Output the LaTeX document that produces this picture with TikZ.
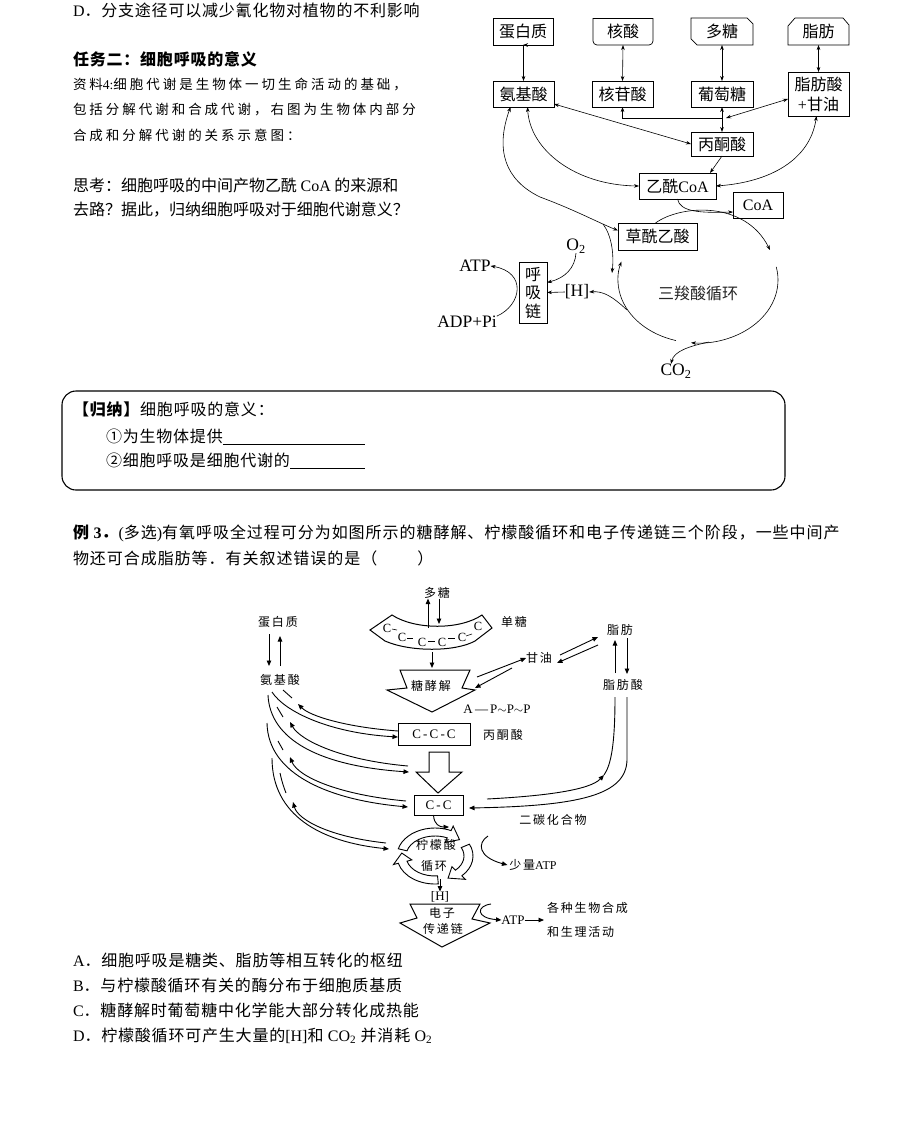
\documentclass[tikz,border=0pt]{standalone}
\usepackage{fontspec}
\setmainfont{Liberation Serif}
\newfontfamily\cjk{Noto Sans CJK SC}[LetterSpace=5]
\newfontfamily\cjkw{Noto Sans CJK SC}[LetterSpace=6]
\newfontfamily\cjkz{Noto Sans CJK SC}[LetterSpace=22]
\newfontfamily\cjkn{Noto Sans CJK SC}
\newfontfamily\cjks{Noto Sans CJK SC}[LetterSpace=15]
\usetikzlibrary{arrows.meta,calc}
\newcommand\fs[1]{\fontsize{#1}{#1}\selectfont}
\newcommand\Lt[1]{{\rmfamily #1}}
\newcommand\harc[2]{%
  \draw[line width=0.9pt, fill=white, shift={(435,856)}]
    (#1:38 and 28) arc[start angle=#1, end angle=#2, x radius=38, y radius=28]
    -- (#2:43 and 33) -- ({#2+22}:33.5 and 24) -- (#2:24 and 15) -- (#2:29 and 20)
    arc[start angle=#2, end angle=#1, x radius=29, y radius=20] -- cycle;}
\tikzset{
  every node/.style={inner sep=0pt, outer sep=0pt},
  txt/.style={anchor=base west, font=\fs{16}\cjk},
  bx/.style={draw, line width=0.7pt, font=\fs{16}\cjkn},
  bxn/.style={font=\fs{16}\cjkn},
  lab/.style={font=\fs{17.5}\rmfamily},
  ar/.style={line width=0.6pt, -{Stealth[length=5pt,width=3.6pt]}},
  dar/.style={line width=0.6pt, {Stealth[length=5pt,width=3.6pt]}-{Stealth[length=5pt,width=3.6pt]}},
  ln/.style={line width=0.7pt},
  Ar/.style={line width=0.9pt, -{Triangle[length=5.5pt,width=4.5pt]}},
  Ln/.style={line width=0.9pt},
  shp/.style={line width=1pt, fill=white},
  lt/.style={font=\fs{12}\cjks},
  ls/.style={font=\fs{13}\rmfamily},
}
\begin{document}
\begin{tikzpicture}[x=1pt,y=-1pt]
\useasboundingbox (0,0) rectangle (916,1130);
\fill[white] (0,0) rectangle (916,1130);

% ---------- top-left text ----------
\node[txt] (tD) at (73,16) {\Lt{D}．分支途径可以减少氰化物对植物的不利影响};
\node[txt, font=\fs{16}\cjk\bfseries] (t2) at (73,65) {任务二：细胞呼吸的意义};
\node[txt, font=\fs{13.5}\cjkz] (z1) at (73,89) {资料\Lt{4:}细胞代谢是生物体一切生命活动的基础，};
\node[txt, font=\fs{13.5}\cjkz] (z2) at (73,114) {包括分解代谢和合成代谢，右图为生物体内部分};
\node[txt, font=\fs{13.5}\cjkz] (z3) at (73,140) {合成和分解代谢的关系示意图：};
\node[txt, font=\fs{16}\cjkn] (s1) at (73,191) {思考：细胞呼吸的中间产物乙酰 \Lt{CoA} 的来源和};
\node[txt, font=\fs{16}\cjkn] (s2) at (73,215) {去路？据此，归纳细胞呼吸对于细胞代谢意义？};

% ---------- top-right diagram ----------
\node[bx, minimum width=60pt, minimum height=27pt] (dbz) at (523,31.5) {蛋白质};
\node[bxn, minimum width=60pt, minimum height=27pt] (hs) at (623,31.5) {核酸};
\node[bxn, minimum width=62pt, minimum height=27pt] (dt) at (722,31.5) {多糖};
\node[bxn, minimum width=61pt, minimum height=27pt] (zf) at (818.5,31.5) {脂肪};
\draw[ln] (hs.north west) -- (hs.north east);
\draw[ln, rounded corners=4pt] (hs.north west) -- (hs.south west) -- (hs.south east) -- (hs.north east);
\draw[ln] (dt.north west) -- ([xshift=-6pt]dt.north east) -- ([yshift=-6pt]dt.north east) -- (dt.south east) -- ([xshift=6pt]dt.south west) -- ([yshift=6pt]dt.south west) -- cycle;
\draw[ln] (zf.south west) -- ([yshift=-8pt]zf.north west) -- ([xshift=7pt]zf.north west) -- ([xshift=-6pt]zf.north east) -- ([yshift=-7pt]zf.north east) -- (zf.south east) -- cycle;

\node[bx, minimum width=61pt, minimum height=26pt] (ajs) at (523.5,94) {氨基酸};
\node[bx, minimum width=61pt, minimum height=26pt] (hgs) at (622.5,94) {核苷酸};
\node[bx, minimum width=62pt, minimum height=26pt] (ptt) at (722,94) {葡萄糖};
\node[bx, minimum width=61pt, minimum height=44pt, align=center, font={\fontsize{16}{20}\selectfont\cjkn}] (zfs) at (818.5,94) {脂肪酸\\\Lt{+}甘油};
\node[bx, minimum width=62pt, minimum height=24pt] (btx) at (722,144) {丙酮酸};
\node[bx, minimum width=77pt, minimum height=26pt] (yx) at (677.5,186) {乙酰\Lt{CoA}};
\node[bx, minimum width=50pt, minimum height=26pt] (coa) at (758,205) {\Lt{CoA}};
\node[bx, minimum width=79pt, minimum height=27pt] (cx) at (657.5,236.5) {草酰乙酸};
\node[bx, minimum width=28pt, minimum height=61pt, align=center, font={\fontsize{16}{18.5}\selectfont\cjkn}] (hxl) at (533,292.5) {呼\\吸\\链};
\node[lab] (H) at (577,292) {[H]};
\node[lab] (o2) at (576,246) {O\textsubscript{2}};
\node[lab] (atp) at (475,266) {ATP};
\node[lab] (adp) at (467,322) {ADP+Pi};
\node[lab] (co2) at (676,371) {CO\textsubscript{2}};
\node[font=\fs{16}\cjkn, text=black!85] (sxs) at (698,293) {三羧酸循环};

\draw[dar] (dbz.south) -- (ajs.south |- dbz.south) -- (ajs.north);
\draw[dar] (hs.south) -- (hgs.north);
\draw[dar] (dt.south) -- (ptt.north);
\draw[dar] (zf.south) -- (zfs.north);
\draw[dar] (ptt.south) -- (btx.north);
\coordinate (jn) at (722,118);
\draw[line width=0.6pt, {Stealth[length=5pt,width=3.6pt]}-] (hgs.south) |- (jn);
\draw[dar] ([yshift=-5pt]zfs.west) -- ([xshift=4pt]jn);
\draw[dar] ([yshift=-10pt]ajs.east) -- (btx.west);
\draw[ar] (btx.south) -- ([xshift=-6pt]yx.north east);
\draw[dar] ([xshift=4pt]ajs.south) .. controls (530,150) and (575,185) .. (yx.west);
\draw[dar] ([xshift=-2pt]zfs.south) .. controls (810,160) and (770,182) .. (yx.east);
\draw[dar] ([xshift=-13pt]ajs.south) .. controls (495,150) and (505,180) .. (540,197) .. controls (575,210) and (597,222) .. ([yshift=6pt]cx.west);
\draw[ar] (603,224) .. controls (612,236) and (614,255) .. (612,273);
\draw[ar] (yx.south) .. controls (680,212) and (700,213) .. ([yshift=-7pt]coa.west);
\draw[ar] ([xshift=-2pt]cx.north) .. controls (680,205) and (745,200) .. (770,250);
\draw[ar, shift={(698,280)}] (-12:80 and 63) arc[start angle=-12, end angle=95, x radius=80, y radius=63];
\draw[ar, shift={(698,280)}] (106:80 and 63) arc[start angle=106, end angle=197, x radius=80, y radius=63];
\draw[ar] (709,342) .. controls (690,346) and (674,351) .. ([xshift=-5pt]co2.north);
\draw[ar] (627,310) .. controls (612,296) and (603,291) .. (H.east);
\draw[ar] (o2.south) .. controls (575,268) and (565,278) .. ([yshift=10pt]hxl.east);
\draw[ar] (H.west) -- (hxl.east);
\draw[ar] (adp.north east) .. controls (522,305) and (527,272) .. (atp.east);

% ---------- summary box ----------
\node[draw, line width=1.1pt, rounded corners=14pt, minimum width=723pt, minimum height=99pt, anchor=north west] (gn) at (62,391) {};
\node[txt] (g0) at (73,415) {\textbf{【归纳】}细胞呼吸的意义：};
\node[txt] (g1) at (106,442) {①为生物体提供\rule[-2pt]{142pt}{0.5pt}};
\node[txt] (g2) at (106,466) {②细胞呼吸是细胞代谢的\rule[-2pt]{75pt}{0.5pt}};

% ---------- example 3 ----------
\node[txt, font=\fs{16}\cjkw] (e1) at (73,538) {\textbf{例 \Lt{3}．}\Lt{(}多选\Lt{)}有氧呼吸全过程可分为如图所示的糖酵解、柠檬酸循环和电子传递链三个阶段，一些中间产};
\node[txt, font=\fs{16}\cjkw] (e2) at (73,564) {物还可合成脂肪等．有关叙述错误的是（\hspace{40pt}）};

% ---------- lower diagram: shapes ----------
\draw[shp] (370,630) -- (392,615) .. controls (415,630) and (460,630) .. (482,615) -- (492,628) -- (475,641) .. controls (455,652) and (410,652) .. (385,641) -- cycle;
\draw[shp] (400,670) -- (470,670) -- (462,688) -- (475,690) -- (432,712) -- (387,690) -- (407,688) -- cycle;
\draw[shp] (429,752) -- (449,752) -- (449,772) -- (462,772) -- (438,793) -- (416,772) -- (429,772) -- cycle;
\draw[shp] (410,904) -- (480,904) -- (472,919) -- (490,923) -- (442,947) -- (400,923) -- (417,918) -- cycle;
\harc{195}{295}
\harc{-25}{45}
\harc{85}{165}

\foreach \p/\q in {387/628, 402/637, 422/642, 442/642, 462/637, 478/626}
  \node[font=\fs{12.5}\rmfamily] at (\p,\q) {C};
\draw[line width=0.6pt] (392,629) -- (397,630);
\draw[line width=0.6pt] (407,638) -- (413,638);
\draw[line width=0.6pt] (428,641) -- (435,641);
\draw[line width=0.6pt] (448,638) -- (455,638);
\draw[line width=0.6pt] (466,636) -- (472,634);

% ---------- lower diagram: labels ----------
\node[lt] (ldt) at (437,593) {多糖};
\node[lt] (lds) at (514,622) {单糖};
\node[lt] (lpro) at (278,622) {蛋白质};
\node[lt] (laa) at (280,680) {氨基酸};
\node[lt] (lgy) at (539,658) {甘油};
\node[lt] (lzf) at (620,630) {脂肪};
\node[lt] (lzfs) at (623,685) {脂肪酸};
\node[lt] (ltjj) at (431,686) {糖酵解};
\node[ls] (latp) at (497,709) {A\,—\,P$\sim$P$\sim$P};
\node[draw, line width=1pt, minimum width=72pt, minimum height=22pt, font=\fs{13}\rmfamily] (ccc) at (434,734) {C\,-\,C\,-\,C};
\node[lt] (lbtx) at (503,735) {丙酮酸};
\node[draw, line width=1pt, minimum width=49pt, minimum height=20pt, font=\fs{13}\rmfamily] (cc) at (438.5,805) {C\,-\,C};
\node[lt] (lec) at (553,820) {二碳化合物};
\node[lt] (lnm) at (436,845) {柠檬酸};
\node[lt] (lxh) at (434,866) {循环};
\node[lt] (lsl) at (533,865) {少量\Lt{ATP}};
\node[ls] (lH) at (440,897) {[H]};
\node[lt] (ldz) at (442,913) {电子};
\node[lt] (lcd) at (443,929) {传递链};
\node[ls] (latp2) at (513,920) {ATP};
\node[lt, anchor=west] (lg1) at (547,908) {各种生物合成};
\node[lt, anchor=west] (lg2) at (547,932) {和生理活动};

% ---------- lower diagram: connectors ----------
\draw[Ar] (428,628) -- ([xshift=-9pt]ldt.south);
\draw[Ar] ([xshift=2pt]ldt.south) -- (439,624);
\draw[Ar] (432,652) -- (432,668);
\draw[Ar] (477,677) -- (lgy.west);
\draw[Ar] (512,668) -- (475,688);
\draw[Ar] (560,655) -- (598,637);
\draw[Ar] (598,645) -- (557,663);
\draw[Ar] (269,634) -- (269,666);
\draw[Ar] (280,666) -- (280,636);
\draw[Ar] (615,673) -- (615,640);
\draw[Ar] (627,638) -- (627,674);

\draw[Ar] (272,692) .. controls (285,712) and (330,733) .. ([yshift=-3pt]ccc.west);
\draw[Ar] ([yshift=3pt]ccc.west) .. controls (345,727) and (310,716) .. (298,704);
\draw[Ln] (283,690) -- (292,698);
\draw[Ar] (268,695) .. controls (270,740) and (320,766) .. (409,772);
\draw[Ar] (408,766) .. controls (340,760) and (300,740) .. (290,722);
\draw[Ln] (277,707) -- (283,717);
\draw[Ar] (267,723) .. controls (268,775) and (330,800) .. ([xshift=-6pt,yshift=-2pt]cc.west);
\draw[Ar] ([xshift=-8pt,yshift=4pt]cc.west) .. controls (340,795) and (298,777) .. (290,757);
\draw[Ln] (278,741) -- (283,750);
\draw[Ar] (272,758) .. controls (272,815) and (320,842) .. (389,849);
\draw[Ar] (386,843) .. controls (330,837) and (298,820) .. (293,802);
\draw[Ln] (280,773) .. controls (282,782) and (284,788) .. (286,793);

\draw[Ar] (627,697) -- (627,760) .. controls (626,795) and (580,806) .. ([xshift=6pt,yshift=-3pt]cc.east);
\draw[Ar] (487,799) .. controls (545,796) and (590,790) .. (604,775);
\draw[Ln] (604,775) .. controls (611,765) and (615,745) .. (615,697);

\draw[Ar] ([xshift=-5pt]cc.south) .. controls (434,825) and (440,827) .. (449,827);
\draw[Ar] (440,879) -- (lH.north);
\draw[Ar] (488,836) .. controls (477,843) and (478,857) .. ([xshift=-2pt]lsl.west);
\draw[Ar] (491,904) .. controls (476,906) and (476,918) .. (latp2.west);
\draw[Ar] (latp2.east) -- ([xshift=-3pt]lg1.west |- latp2.east);

% ---------- options ----------
\node[txt] (oA) at (73,966) {\Lt{A}．细胞呼吸是糖类、脂肪等相互转化的枢纽};
\node[txt] (oB) at (73,991) {\Lt{B}．与柠檬酸循环有关的酶分布于细胞质基质};
\node[txt] (oC) at (73,1016) {\Lt{C}．糖酵解时葡萄糖中化学能大部分转化成热能};
\node[txt] (oD) at (73,1041) {\Lt{D}．柠檬酸循环可产生大量的\Lt{[H]}和 \Lt{CO\textsubscript{2}} 并消耗 \Lt{O\textsubscript{2}}};
\end{tikzpicture}
\end{document}
